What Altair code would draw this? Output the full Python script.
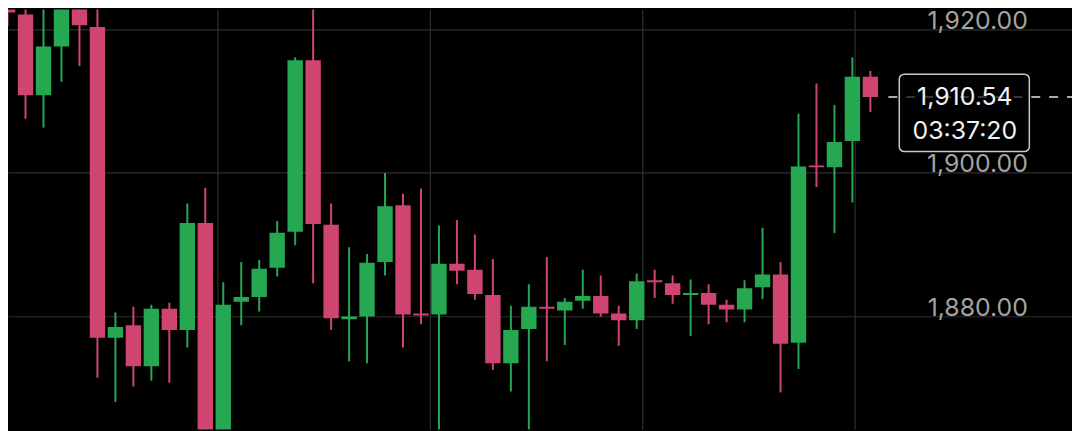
import altair as alt
import pandas as pd

# ---- data ----
idx = list(range(49))
opens = [1924.07, 1922.03, 1910.78, 1917.56, 1924.50, 1920.27, 1877.02, 1878.78, 1873.08, 1881.08,
         1878.10, 1893.02, 1862.00, 1882.03, 1882.71, 1886.78, 1891.80, 1915.66, 1892.75, 1879.59,
         1880.00, 1887.59, 1895.46, 1880.41, 1880.27, 1887.32, 1886.51, 1882.98, 1873.49, 1878.24,
         1881.36, 1880.81, 1882.17, 1882.85, 1880.41, 1879.46, 1885.02, 1884.61, 1882.98, 1883.25,
         1881.63, 1880.95, 1884.07, 1885.83, 1876.34, 1901.00, 1900.75, 1904.41, 1913.36]
highs = [1924.60, 1923.20, 1923.00, 1925.00, 1925.20, 1923.50, 1880.54, 1881.36, 1881.63, 1881.90,
         1895.73, 1897.90, 1884.75, 1887.59, 1887.86, 1893.29, 1916.07, 1924.00, 1895.73, 1889.63,
         1888.68, 1899.97, 1897.08, 1897.76, 1892.65, 1893.42, 1891.39, 1888.00, 1881.49, 1884.47,
         1888.27, 1882.58, 1886.51, 1885.69, 1881.49, 1885.97, 1886.51, 1885.69, 1885.15, 1884.47,
         1882.31, 1885.02, 1892.34, 1887.59, 1908.20, 1912.41, 1909.42, 1916.07, 1914.17]
lows = [1920.41, 1907.53, 1906.31, 1912.68, 1914.85, 1871.46, 1868.07, 1870.24, 1871.05, 1870.78,
        1875.66, 1860.00, 1860.00, 1878.78, 1880.68, 1885.56, 1889.90, 1884.61, 1878.10, 1873.76,
        1873.49, 1885.69, 1875.66, 1878.92, 1862.00, 1884.47, 1882.31, 1872.54, 1869.56, 1862.50,
        1873.76, 1876.03, 1881.08, 1879.96, 1875.93, 1878.24, 1882.58, 1881.76, 1877.29, 1878.92,
        1879.19, 1879.19, 1882.44, 1869.42, 1872.68, 1898.03, 1891.62, 1895.86, 1908.47]
closes = [1922.31, 1910.78, 1917.56, 1924.50, 1920.54, 1877.02, 1878.51, 1873.08, 1881.08, 1878.10,
          1893.02, 1862.00, 1881.63, 1882.71, 1886.64, 1891.66, 1915.66, 1892.88, 1879.73, 1880.00,
          1887.46, 1895.32, 1880.27, 1880.14, 1887.32, 1886.37, 1883.12, 1873.49, 1878.10, 1881.36,
          1881.08, 1882.03, 1882.85, 1880.41, 1879.46, 1884.88, 1884.75, 1882.98, 1883.25, 1881.63,
          1880.95, 1883.93, 1885.83, 1876.20, 1900.88, 1900.75, 1904.27, 1913.36, 1910.54]
y_ticks = [1880, 1900, 1920]
x_grid = [11.68, 23.50, 35.31, 47.13]
last_price = 1910.54
countdown = "03:37:20"

GREEN = "#26a852"
RED = "#d04570"
GRID = "#2e2e2e"

df = pd.DataFrame({"i": idx, "open": opens, "high": highs, "low": lows, "close": closes})
df["dir"] = ["up" if c >= o else "down" for o, c in zip(opens, closes)]
ann = pd.DataFrame({"price": [last_price], "countdown": [countdown]})

W, H = 1072, 423

xscale = alt.Scale(domain=[0.301, 58.94], nice=False, zero=False)
yscale = alt.Scale(domain=[1864.27, 1922.71], nice=False, zero=False)
xaxis = alt.Axis(values=x_grid, grid=True, gridColor=GRID, gridWidth=1.2, labels=False,
                 ticks=False, domain=False, title=None)
yaxis = alt.Axis(orient="right", values=y_ticks, grid=True, gridColor=GRID, gridWidth=1.2,
                 domain=False, ticks=False, tickSize=0, labelPadding=-45, labelAlign="right",
                 labelBaseline="alphabetic", labelOffset=-1, labelColor="#a3a3a3",
                 labelFont="Inter", labelFontSize=25, format=",.2f", labelOverlap=False,
                 labelFlush=False, labelBound=False, title=None)

X = alt.X("i:Q", scale=xscale, axis=xaxis, title=None)
color = alt.Color("dir:N", scale=alt.Scale(domain=["up", "down"], range=[GREEN, RED]), legend=None)

base = alt.Chart(df)
wicks = base.mark_rule(strokeWidth=2, clip=True).encode(
    x=X, y=alt.Y("low:Q", scale=yscale, axis=yaxis, title=None), y2="high:Q", color=color)
bodies = base.mark_bar(size=15.5, clip=True).encode(
    x=X, y=alt.Y("open:Q", scale=yscale, axis=yaxis, title=None), y2="close:Q", color=color)

annb = alt.Chart(ann)
Yp = alt.Y("price:Q", scale=yscale, axis=yaxis, title=None)
line = annb.mark_rule(color="#e6e6e6", strokeDash=[9, 9], strokeWidth=1.5).encode(
    x=alt.value(887), x2=alt.value(W), y=Yp)
box = annb.mark_rect(fill="#000000", fillOpacity=0.7, stroke="#c8c8c8", strokeWidth=1.5,
                     cornerRadius=5, yOffset=-23, y2Offset=55).encode(
    x=alt.value(898), x2=alt.value(1029), y=Yp, y2="price:Q")
t1 = annb.mark_text(font="Inter", fontSize=25, color="#f2f2f2", align="center",
                    baseline="alphabetic", dy=8).encode(
    x=alt.value(964), y=Yp, text=alt.Text("price:Q", format=",.2f"))
t2 = annb.mark_text(font="Inter", fontSize=25, color="#f2f2f2", align="center",
                    baseline="alphabetic", dy=42).encode(
    x=alt.value(964), y=Yp, text="countdown:N")

chart = alt.layer(wicks, bodies, line, box, t1, t2).properties(
    width=W, height=H, background="#000000", padding=0,
    autosize=alt.AutoSizeParams(type="none"),
).configure_view(stroke=None)

chart.save("out.html", embed_options={"renderer": "svg", "actions": False})
